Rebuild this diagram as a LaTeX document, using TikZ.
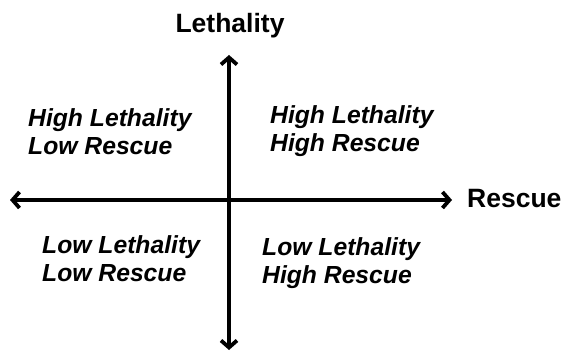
\documentclass[tikz,border=0pt]{standalone}
\usepackage{fontspec}
\setmainfont{Liberation Sans}
\usetikzlibrary{arrows.meta}
\begin{document}
\begin{tikzpicture}[x=1pt,y=1pt,
  axis/.style={line width=3.8pt,{Straight Barb[length=7pt,width=16pt]}-{Straight Barb[length=7pt,width=16pt]}},
  axislabel/.style={font=\fontsize{26.5}{28}\selectfont\bfseries,inner sep=0pt},
  quad/.style={font=\fontsize{24.7}{28}\selectfont\bfseries\itshape,align=left,anchor=north west,inner sep=0pt}]
\useasboundingbox (0,0) rectangle (568,351);
\coordinate (left) at (10,151);
\coordinate (right) at (452,151);
\coordinate (top) at (229,296);
\coordinate (bottom) at (229,1);
\draw[axis] (left) -- (right);
\draw[axis] (bottom) -- (top);
\node[axislabel,anchor=base] (leth) at (230,318) {Lethality};
\node[axislabel,anchor=base west] (resc) at (467,143) {Rescue};
\node[quad] (ul) at (28,243) {High Lethality\\Low Rescue};
\node[quad] (ur) at (270,246) {High Lethality\\High Rescue};
\node[quad] (ll) at (42,116) {Low Lethality\\Low Rescue};
\node[quad] (lr) at (262,114) {Low Lethality\\High Rescue};
\end{tikzpicture}
\end{document}
